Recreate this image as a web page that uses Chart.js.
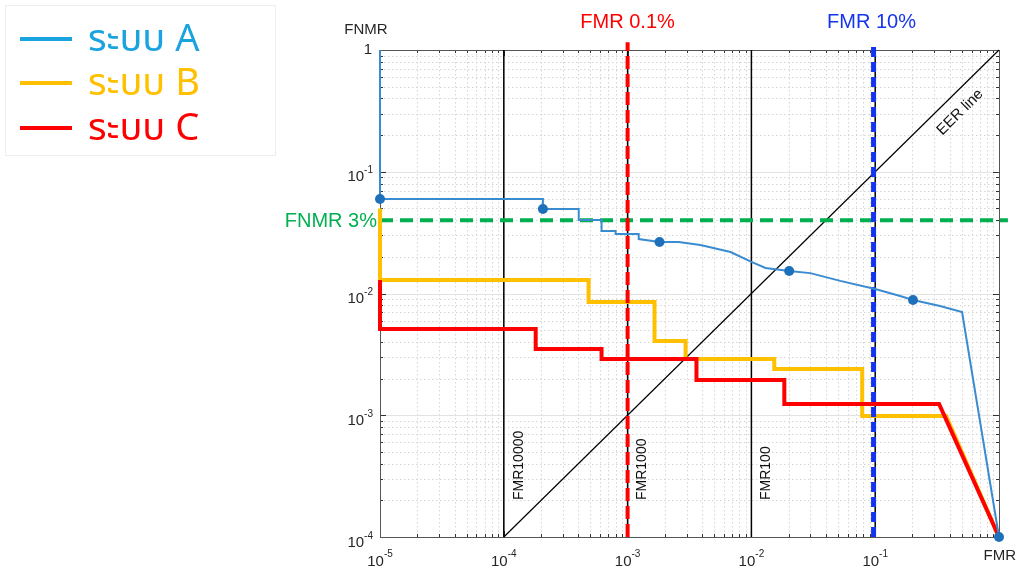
<!DOCTYPE html>
<html><head><meta charset="utf-8">
<script src="https://cdn.jsdelivr.net/npm/chart.js@4.4.1/dist/chart.umd.min.js"></script>
<style>
html,body{margin:0;padding:0;background:#fff;}
#wrap{position:relative;width:1017px;height:570px;overflow:hidden;}
#c{position:absolute;left:0;top:0;}
#legend{position:absolute;left:5px;top:5px;width:271px;height:151px;border:1px solid #eeeeee;box-sizing:border-box;}
.item{position:absolute;left:14px;height:40px;display:flex;align-items:center;white-space:nowrap;
  font-family:"Noto Sans Thai","Leelawadee UI",Tahoma,"Noto Sans",sans-serif;font-size:38px;}
.item .sw{display:inline-block;width:52px;height:4px;margin-right:16px;}
</style></head>
<body><div id="wrap"><canvas id="c" width="1017" height="570"></canvas><div id="legend"></div></div>
<script>
// ---------- data ----------
const seriesNames = ['ระบบ A', 'ระบบ B', 'ระบบ C'];
// System A (FMR, FNMR)
const fmrA  = [1e-5, 1e-5, 2.07e-4, 2.07e-4, 4.03e-4, 4.03e-4, 6.16e-4, 6.16e-4, 8.0e-4, 8.0e-4, 1.23e-3, 1.23e-3, 1.81e-3, 2.58e-3, 3.88e-3, 6.78e-3, 0.01, 0.013, 0.0202, 0.0299, 0.0522, 0.1, 0.159, 0.202, 0.334, 0.503, 1];
const fnmrA = [1, 0.0597, 0.0597, 0.0494, 0.0494, 0.0402, 0.0402, 0.0326, 0.0326, 0.0308, 0.0308, 0.0280, 0.0265, 0.0265, 0.0250, 0.0219, 0.0182, 0.0162, 0.0153, 0.0147, 0.0127, 0.0109, 0.00953, 0.00885, 0.00789, 0.00705, 1e-4];
const markerIdxA = [1, 3, 12, 18, 23, 26];
// System B
const fmrB  = [1e-5, 1e-5, 4.84e-4, 4.84e-4, 1.65e-3, 1.65e-3, 2.94e-3, 2.94e-3, 0.0153, 0.0153, 0.0785, 0.0785, 0.374, 1];
const fnmrB = [0.05, 0.0129, 0.0129, 0.00851, 0.00851, 0.00407, 0.00407, 0.00290, 0.00290, 0.00240, 0.00240, 0.000986, 0.000986, 1e-4];
// System C
const fmrC  = [1e-5, 1e-5, 1.81e-4, 1.81e-4, 6.16e-4, 6.16e-4, 3.60e-3, 3.60e-3, 0.01845, 0.01845, 0.328, 1];
const fnmrC = [0.0129, 0.00511, 0.00511, 0.00350, 0.00350, 0.00290, 0.00290, 0.00195, 0.00195, 0.00124, 0.00124, 1e-4];
// reference lines
const fmrRefLines = [1e-4, 1e-3, 1e-2, 1e-1];
const fmrRefNames = ['FMR10000', 'FMR1000', 'FMR100'];
const eerFMR  = [1e-4, 1];
const eerFNMR = [1e-4, 1];
const fmr01Line  = 1e-3;   // "FMR 0.1%"
const fmr10Line  = 0.097;  // "FMR 10%" (drawn just left of 10^-1)
const fnmr3Line  = 0.04;   // "FNMR 3%" (as drawn)
const lineTop = 1.16, lineRight = 1.18;
const xTickExp = [-5, -4, -3, -2, -1];
const yTickExp = [-1, -2, -3, -4];

// ---------- styles ----------
const colA = '#3A8BD0', colAdot = '#1E70BA', colB = '#FFC000', colC = '#FF0000';
const legendColors = ['#1AA3DF', '#FFC000', '#FF0000'];
const FONT = '"Liberation Sans", Arial, sans-serif';

const xy = (xs, ys) => xs.map((x, i) => ({x, y: ys[i]}));

const datasets = [
  {label: seriesNames[0], data: xy(fmrA, fnmrA), borderColor: colA, borderWidth: 2,
   pointRadius: c => markerIdxA.includes(c.dataIndex) ? 5 : 0, pointBackgroundColor: colAdot, pointBorderWidth: 0, order: 0},
  {label: 'FMR 0.1%', data: [{x: fmr01Line, y: 1e-4}, {x: fmr01Line, y: lineTop}], borderColor: '#FF0000', borderWidth: 4, borderDash: [13, 5], order: 1},
  {label: seriesNames[2], data: xy(fmrC, fnmrC), borderColor: colC, borderWidth: 4, order: 2},
  {label: 'FMR 10%', data: [{x: fmr10Line, y: 1e-4}, {x: fmr10Line, y: lineTop}], borderColor: '#1434F0', borderWidth: 5, borderDash: [10, 5], order: 3},
  {label: seriesNames[1], data: xy(fmrB, fnmrB), borderColor: colB, borderWidth: 4, order: 4},
  {label: 'FNMR 3%', data: [{x: 1e-5, y: fnmr3Line}, {x: lineRight, y: fnmr3Line}], borderColor: '#00B050', borderWidth: 4, borderDash: [13, 7], order: 5},
  {label: 'EER line', data: xy(eerFMR, eerFNMR), borderColor: '#000', borderWidth: 1.2, order: 6},
  ...fmrRefLines.map((v, i) => ({label: 'ref' + i, data: [{x: v, y: 1e-4}, {x: v, y: 1}], borderColor: '#000', borderWidth: 1.5, order: 7 + i}))
];
datasets.forEach(d => { d.showLine = true; d.clip = false; d.fill = false; if (d.pointRadius === undefined) d.pointRadius = 0; });

function drawPow(ctx, exp, x, yBase, ySup, align) {
  ctx.font = '15px ' + FONT;
  const wb = ctx.measureText('10').width;
  ctx.font = '10px ' + FONT;
  const s = '-' + Math.abs(exp);
  const ws = ctx.measureText(s).width;
  const tot = wb + ws;
  let sx = align === 'center' ? x - tot / 2 : x - tot;
  ctx.textAlign = 'left';
  ctx.textBaseline = 'alphabetic';
  ctx.font = '15px ' + FONT;
  ctx.fillText('10', sx, yBase);
  ctx.font = '10px ' + FONT;
  ctx.fillText(s, sx + wb, ySup);
}

const gridPlugin = {
  id: 'grid',
  beforeDatasetsDraw(chart) {
    const {ctx, chartArea: a, scales: {x, y}} = chart;
    ctx.save();
    ctx.lineWidth = 1;
    // minor dotted grid
    ctx.strokeStyle = '#d4d4d4';
    ctx.setLineDash([1.5, 2.5]);
    for (let e = -5; e < 0; e++) for (let k = 2; k <= 9; k++) {
      const px = Math.round(x.getPixelForValue(k * Math.pow(10, e))) + 0.5;
      ctx.beginPath(); ctx.moveTo(px, a.top); ctx.lineTo(px, a.bottom); ctx.stroke();
    }
    for (let e = -4; e < 0; e++) for (let k = 2; k <= 9; k++) {
      const py = Math.round(y.getPixelForValue(k * Math.pow(10, e))) + 0.5;
      ctx.beginPath(); ctx.moveTo(a.left, py); ctx.lineTo(a.right, py); ctx.stroke();
    }
    // major grid
    ctx.setLineDash([]);
    ctx.strokeStyle = '#e3e3e3';
    for (let e = -4; e < 0; e++) {
      const px = Math.round(x.getPixelForValue(Math.pow(10, e))) + 0.5;
      ctx.beginPath(); ctx.moveTo(px, a.top); ctx.lineTo(px, a.bottom); ctx.stroke();
      const py = Math.round(y.getPixelForValue(Math.pow(10, e))) + 0.5;
      ctx.beginPath(); ctx.moveTo(a.left, py); ctx.lineTo(a.right, py); ctx.stroke();
    }
    // ticks (inside) on all sides
    ctx.strokeStyle = '#333';
    for (let e = -5; e < 0; e++) for (let k = 1; k <= 9; k++) {
      const len = k === 1 ? 6 : 3;
      const px = Math.round(x.getPixelForValue(k * Math.pow(10, e))) + 0.5;
      ctx.beginPath(); ctx.moveTo(px, a.bottom); ctx.lineTo(px, a.bottom - len); ctx.stroke();
      ctx.beginPath(); ctx.moveTo(px, a.top); ctx.lineTo(px, a.top + len); ctx.stroke();
    }
    for (let e = -4; e < 0; e++) for (let k = 1; k <= 9; k++) {
      const len = k === 1 ? 6 : 3;
      const py = Math.round(y.getPixelForValue(k * Math.pow(10, e))) + 0.5;
      ctx.beginPath(); ctx.moveTo(a.left, py); ctx.lineTo(a.left + len, py); ctx.stroke();
      ctx.beginPath(); ctx.moveTo(a.right, py); ctx.lineTo(a.right - len, py); ctx.stroke();
    }
    // box
    ctx.strokeStyle = '#555';
    ctx.strokeRect(Math.round(a.left) + 0.5, Math.round(a.top) + 0.5, Math.round(a.right - a.left), Math.round(a.bottom - a.top));
    ctx.restore();
  },
  afterDatasetsDraw(chart) {
    const {ctx, chartArea: a, scales: {x, y}} = chart;
    ctx.save();
    ctx.fillStyle = '#262626';
    // x tick labels
    xTickExp.forEach(e => drawPow(ctx, e, x.getPixelForValue(Math.pow(10, e)), a.bottom + 29, a.bottom + 20, 'center'));
    ctx.font = '15px ' + FONT;
    ctx.textAlign = 'right'; ctx.textBaseline = 'middle';
    ctx.fillText('FMR', 1016, a.bottom + 19);
    // y tick labels
    ctx.textAlign = 'right';
    ctx.fillText('1', 372, y.getPixelForValue(1));
    yTickExp.forEach(e => { const py = y.getPixelForValue(Math.pow(10, e)); drawPow(ctx, e, 373, py + 9.5, py + 1.5, 'right'); });
    ctx.font = '15px ' + FONT;
    ctx.textAlign = 'center'; ctx.textBaseline = 'middle';
    ctx.fillText('FNMR', 366, 30);
    // rotated reference labels
    ctx.fillStyle = '#111';
    ctx.font = '14px ' + FONT;
    fmrRefNames.forEach((n, i) => {
      const px = x.getPixelForValue(fmrRefLines[i]) + 15;
      ctx.save(); ctx.translate(px, 500); ctx.rotate(-Math.PI / 2);
      ctx.textAlign = 'left'; ctx.textBaseline = 'middle'; ctx.fillText(n, 0, 0); ctx.restore();
    });
    // EER line label
    const x0 = x.getPixelForValue(1e-4), y0 = y.getPixelForValue(1e-4), x1 = x.getPixelForValue(1), y1 = y.getPixelForValue(1);
    const ang = Math.atan2(y1 - y0, x1 - x0);
    const px = x.getPixelForValue(0.45), py = y.getPixelForValue(0.45);
    ctx.font = '15px ' + FONT;
    ctx.save(); ctx.translate(px + 4, py + 20); ctx.rotate(ang);
    ctx.textAlign = 'center'; ctx.textBaseline = 'middle'; ctx.fillText('EER line', 0, 0); ctx.restore();
    // target labels
    ctx.font = '20px ' + FONT;
    ctx.textAlign = 'center'; ctx.textBaseline = 'middle';
    ctx.fillStyle = '#FF0000';
    ctx.fillText('FMR 0.1%', x.getPixelForValue(fmr01Line), 22);
    ctx.fillStyle = '#1434F0';
    ctx.fillText('FMR 10%', x.getPixelForValue(fmr10Line) - 2, 22);
    ctx.fillStyle = '#00B050';
    ctx.textAlign = 'right';
    ctx.fillText('FNMR 3%', 377, y.getPixelForValue(fnmr3Line) + 1);
    ctx.restore();
  }
};

new Chart(document.getElementById('c'), {
  type: 'scatter',
  data: {datasets},
  options: {
    responsive: false, animation: false, devicePixelRatio: 1,
    layout: {padding: {left: 380, right: 18, top: 50, bottom: 33}},
    plugins: {legend: {display: false}, tooltip: {enabled: false}},
    scales: {
      x: {type: 'logarithmic', min: 1e-5, max: 1, display: false},
      y: {type: 'logarithmic', min: 1e-4, max: 1, display: false}
    }
  },
  plugins: [gridPlugin]
});

// HTML legend built from series names/colours
const lg = document.getElementById('legend');
const legendTops = [13, 57, 102];
seriesNames.forEach((n, i) => {
  const d = document.createElement('div');
  d.className = 'item';
  d.style.top = legendTops[i] + 'px';
  d.style.color = legendColors[i];
  d.innerHTML = '<span class="sw" style="background:' + legendColors[i] + '"></span>' + n;
  lg.appendChild(d);
});
</script></body></html>
